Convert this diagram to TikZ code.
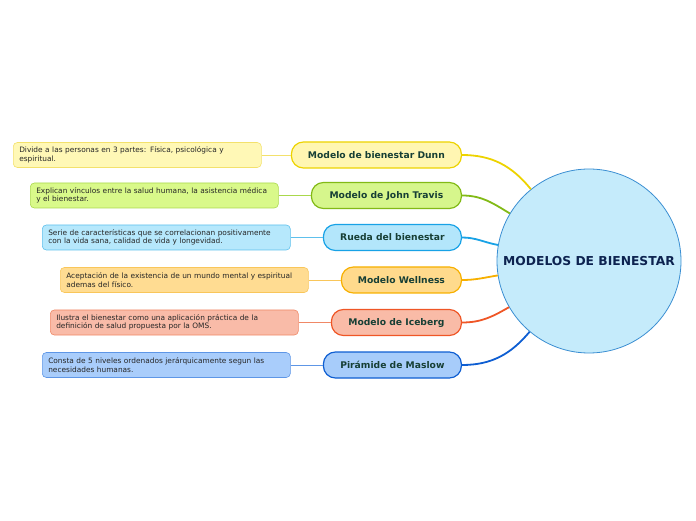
\documentclass[tikz,border=0pt]{standalone}
\usepackage{fontspec}
\setmainfont{DejaVu Sans}
\usepackage{xcolor}
\usetikzlibrary{positioning,calc}

% colori dei rami: f = fondo, c = bordo/curva, d = descrizione, l = bordo descrizione
\definecolor{dunn-f}{HTML}{FFF6B2}\definecolor{dunn-c}{HTML}{EDD300}
\definecolor{dunn-d}{HTML}{FFF8B6}\definecolor{dunn-l}{HTML}{F3E16C}
\definecolor{travis-f}{HTML}{D6F68C}\definecolor{travis-c}{HTML}{82BA16}
\definecolor{travis-d}{HTML}{D9F98A}\definecolor{travis-l}{HTML}{AAD84C}
\definecolor{rueda-f}{HTML}{B3E6FB}\definecolor{rueda-c}{HTML}{18A2E6}
\definecolor{rueda-d}{HTML}{B6E8FC}\definecolor{rueda-l}{HTML}{5EC0EC}
\definecolor{well-f}{HTML}{FFDA8C}\definecolor{well-c}{HTML}{F7B000}
\definecolor{well-d}{HTML}{FFDC92}\definecolor{well-l}{HTML}{F9C65A}
\definecolor{ice-f}{HTML}{F9BBA7}\definecolor{ice-c}{HTML}{EF5626}
\definecolor{ice-d}{HTML}{F9BBA8}\definecolor{ice-l}{HTML}{F08866}
\definecolor{maslow-f}{HTML}{A7CCFA}\definecolor{maslow-c}{HTML}{0E5ED2}
\definecolor{maslow-d}{HTML}{A9CDFB}\definecolor{maslow-l}{HTML}{5E96E6}
\definecolor{centro-f}{HTML}{C5EBFB}\definecolor{centro-c}{HTML}{3A8ED2}
\definecolor{testo-r}{HTML}{173F35}\definecolor{testo-c}{HTML}{0D2350}

\begin{document}
\begin{tikzpicture}[x=1pt,y=1pt,
  ramo/.style={rounded corners=12pt,line width=1.2pt,minimum height=26pt,inner xsep=0pt,
    font=\fontsize{9.2}{11}\selectfont\bfseries,text=testo-r},
  nota/.style={rounded corners=4pt,line width=0.6pt,minimum height=25pt,text width=236pt,
    inner xsep=6pt,align=left,font=\fontsize{7.4}{8.6}\selectfont,text=black!85}]
  \useasboundingbox (0,0) rectangle (696,520);
  % nodo centrale
  \node[circle,draw=centro-c,fill=centro-f,line width=0.8pt,minimum size=184pt,
    font=\fontsize{12.3}{14}\selectfont\bfseries,text=testo-c] (centro) at (589,259)
    {MODELOS DE BIENESTAR};
  % rami con descrizione
  \foreach \n/\y/\w/\dx/\ang/\lab/\txt in {
    dunn/365/170/13/129/{Modelo de bienestar Dunn}/{Divide a las personas en 3 partes: Física, psicológica y\\espiritual.},
    travis/324.5/150/30/149/{Modelo de John Travis}/{Explican vínculos entre la salud humana, la asistencia médica\\y el bienestar.},
    rueda/282.5/138/42/170/{Rueda del bienestar}/{Serie de características que se correlacionan positivamente\\con la vida sana, calidad de vida y longevidad.},
    well/240/120/60/189/{Modelo Wellness}/{Aceptación de la existencia de un mundo mental y espiritual\\ademas del físico.},
    ice/197.5/130/50/210/{Modelo de Iceberg}/{Ilustra el bienestar como una aplicación práctica de la\\definición de salud propuesta por la OMS.},
    maslow/155/138/42/230/{Pirámide de Maslow}/{Consta de 5 niveles ordenados jerárquicamente segun las\\necesidades humanas.}}
  {
    \node[ramo,draw=\n-c,fill=\n-f,minimum width=\w pt,anchor=east] (\n) at (462,\y) {\lab};
    \node[nota,draw=\n-l,fill=\n-d,anchor=west] (\n-d) at (\dx,\y) {\txt};
    \draw[\n-l,line width=0.7pt] (\n-d.east) -- (\n.west);
    \draw[\n-c,line width=1.8pt] (\n.east) to[out=0,in=\ang] (centro);
  }
\end{tikzpicture}
\end{document}
